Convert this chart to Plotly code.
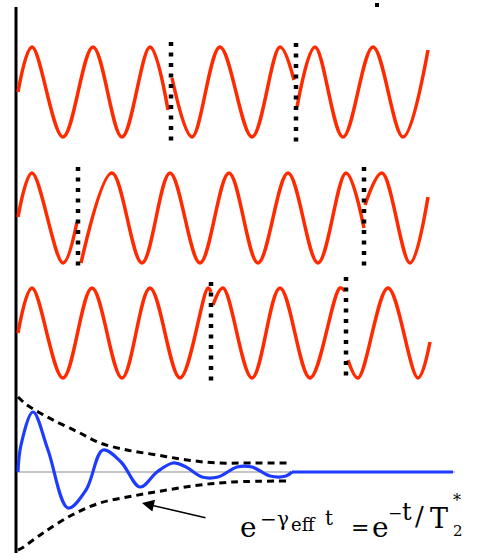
import plotly.graph_objects as go

# ---- data (pixel coordinates of the schematic) ----
# red phase-jumping oscillations, segments separated by None
ROW1_X = [18, 32, 63, 93, 122, 150, 168, None, 172, 192, 220, 252, 280, 294, None, 297, 315, 343, 373, 403, 428]
ROW1_Y = [92, 47, 137, 47, 137, 47, 110, None, 78, 137, 47, 137, 47, 80, None, 107, 47, 137, 47, 137, 50]
ROW2_X = [18, 32, 63, 77, None, 81, 112, 142, 170, 200, 229, 258, 288, 318, 346, 364, None, 365, 382, 410, 428]
ROW2_Y = [217, 173, 263, 222, None, 263, 173, 263, 173, 263, 173, 263, 173, 263, 173, 228, None, 205, 173, 263, 197]
ROW3_X = [18, 32, 63, 92, 122, 150, 180, 208, 211, None, 213, 223, 252, 280, 310, 340, 345, None, 348, 358, 388, 418, 430]
ROW3_Y = [333, 288, 378, 288, 378, 288, 378, 288, 292, None, 305, 288, 378, 288, 378, 288, 291, None, 360, 378, 288, 378, 342]

# dotted phase-jump markers: x, top, bottom
JUMP_X = [171, 296, 78, 364, 211, 346]
JUMP_TOP = [42, 43, 167, 167, 282, 277]
JUMP_BOT = [146, 146, 270, 270, 384, 381]

# decaying sum (blue) and its envelope (dashed)
DECAY_X = [18, 21, 33, 48, 68, 86, 103, 121, 140, 157, 173, 186, 202, 218, 237, 252, 270, 286, 292]
DECAY_Y = [472, 445, 412, 450, 508, 490, 450, 462, 487, 472, 463, 467, 477, 477, 467, 467, 476, 476, 472]
FLAT_X = [292, 453]
FLAT_Y = [472, 472]
ENV_UP_X = [18, 27, 40, 55, 78, 100, 127, 157, 187, 217, 250, 290]
ENV_UP_Y = [397, 405, 413, 421, 432, 443, 450, 455, 460, 463, 463, 463]
ENV_LO_X = [18, 22, 43, 72, 100, 133, 167, 200, 233, 290]
ENV_LO_Y = [550, 548, 533, 515, 503, 496, 490, 485, 482, 481]

BASE_X = [18, 455]
BASE_Y = [472, 472]
AXIS_X = [16, 16]
AXIS_Y = [7, 553]

RED = "#ff2a00"
BLUE = "#1e3cff"

fig = go.Figure()

fig.add_trace(go.Scatter(x=BASE_X, y=BASE_Y, mode="lines",
                         line=dict(color="#8c8c8c", width=1.2), hoverinfo="skip"))
fig.add_trace(go.Scatter(x=AXIS_X, y=AXIS_Y, mode="lines",
                         line=dict(color="black", width=3), hoverinfo="skip"))

for xs, ys in [(ROW1_X, ROW1_Y), (ROW2_X, ROW2_Y), (ROW3_X, ROW3_Y)]:
    fig.add_trace(go.Scatter(x=xs, y=ys, mode="lines", connectgaps=False,
                             line=dict(color=RED, width=3.5, shape="spline", smoothing=1),
                             hoverinfo="skip"))

jx, jy = [], []
for x, t, b in zip(JUMP_X, JUMP_TOP, JUMP_BOT):
    jx += [x, x, None]
    jy += [t, b, None]
fig.add_trace(go.Scatter(x=jx, y=jy, mode="lines", connectgaps=False,
                         line=dict(color="black", width=4.5, dash="4px,6.5px"),
                         hoverinfo="skip"))

for xs, ys in [(ENV_UP_X, ENV_UP_Y), (ENV_LO_X, ENV_LO_Y)]:
    fig.add_trace(go.Scatter(x=xs, y=ys, mode="lines",
                             line=dict(color="black", width=3, dash="7px,5px",
                                       shape="spline", smoothing=1),
                             hoverinfo="skip"))

fig.add_trace(go.Scatter(x=DECAY_X, y=DECAY_Y, mode="lines",
                         line=dict(color=BLUE, width=3.2, shape="spline", smoothing=1),
                         hoverinfo="skip"))
fig.add_trace(go.Scatter(x=FLAT_X, y=FLAT_Y, mode="lines",
                         line=dict(color=BLUE, width=3), hoverinfo="skip"))

fig.add_trace(go.Scatter(x=[377], y=[5], mode="markers",
                         marker=dict(color="black", size=4, symbol="square"),
                         hoverinfo="skip"))

# arrow
fig.add_annotation(x=142, y=503, ax=207, ay=518, xref="x", yref="y",
                   axref="x", ayref="y", text="", showarrow=True,
                   arrowhead=2, arrowsize=1.6, arrowwidth=1.5, arrowcolor="black")

# formula pieces: text, left x, baseline y, size
FONT = "DejaVu Serif"
pieces = [
    ("e", 239, 537, 28),
    ("−", 259, 526, 20),
    ("γ", 276, 526, 20),
    ("eff", 290, 531, 18),
    ("t", 324, 525, 20),
    ("=", 350, 535, 22),
    ("e", 371, 537, 28),
    ("−", 387, 519, 17),
    ("t", 401, 520, 24),
    ("/", 414, 525, 26),
    ("T", 429, 528, 27),
    ("2", 452, 536, 15),
    ("*", 452, 506, 16),
]
for txt, x, base, s in pieces:
    fig.add_annotation(x=x, y=base - 0.34 * s, xref="x", yref="y", text=txt,
                       showarrow=False, xanchor="left", yanchor="middle",
                       borderpad=0, font=dict(family=FONT, size=s, color="black"))

fig.update_layout(
    width=477, height=553,
    margin=dict(l=0, r=0, t=0, b=0),
    paper_bgcolor="white", plot_bgcolor="white",
    showlegend=False,
    xaxis=dict(range=[0, 477], visible=False, fixedrange=True),
    yaxis=dict(range=[553, 0], visible=False, fixedrange=True),
)

fig.write_html("out.html", config={"displayModeBar": False},
               post_script="document.body.style.margin='0px';document.body.style.overflow='hidden';")
